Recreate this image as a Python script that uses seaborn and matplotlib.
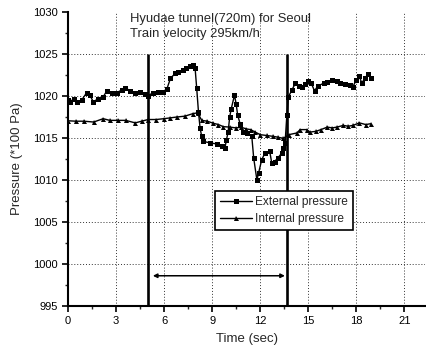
import matplotlib
matplotlib.use("Agg")
import matplotlib.pyplot as plt
import seaborn as sns
import pandas as pd
from matplotlib.ticker import MultipleLocator

ext_t = [0.0, 0.15, 0.35, 0.55, 0.85, 1.17, 1.37, 1.58, 1.9, 2.2, 2.42, 2.73, 3.04, 3.35, 3.56,
         3.9, 4.2, 4.5, 4.8, 5.0, 5.3, 5.6, 5.96, 6.17, 6.4, 6.7, 6.9, 7.2, 7.4, 7.6, 7.83, 7.94,
         8.04, 8.15, 8.25, 8.35, 8.46, 8.9, 9.3, 9.6, 9.8, 9.9, 10.0, 10.1, 10.2, 10.4, 10.5, 10.6,
         10.75, 10.96, 11.17, 11.48, 11.6, 11.8, 11.9, 12.1, 12.3, 12.6, 12.73, 12.9, 13.1, 13.35,
         13.45, 13.56, 13.67, 13.77, 13.98, 14.2, 14.4, 14.6, 14.8, 15.0, 15.2, 15.4, 15.6, 15.96,
         16.2, 16.5, 16.8, 17.0, 17.3, 17.6, 17.8, 18.0, 18.2, 18.35, 18.56, 18.77, 18.9]
ext_p = [1019.5, 1019.3, 1019.7, 1019.3, 1019.5, 1020.4, 1020.1, 1019.3, 1019.7, 1019.9, 1020.6,
         1020.3, 1020.4, 1020.7, 1021.0, 1020.6, 1020.4, 1020.5, 1020.2, 1020.0, 1020.4, 1020.5,
         1020.5, 1020.8, 1022.1, 1022.7, 1022.9, 1023.1, 1023.3, 1023.6, 1023.7, 1023.3, 1020.9,
         1018.1, 1016.2, 1015.2, 1014.6, 1014.4, 1014.3, 1014.0, 1013.8, 1014.8, 1015.7, 1017.5,
         1018.5, 1020.1, 1019.1, 1017.7, 1016.7, 1015.75, 1015.6, 1015.2, 1012.6, 1010.0, 1010.8,
         1012.4, 1013.2, 1013.4, 1012.0, 1012.2, 1012.6, 1013.2, 1013.8, 1014.4, 1017.7, 1019.9,
         1020.7, 1021.5, 1021.2, 1021.1, 1021.4, 1021.8, 1021.5, 1020.6, 1021.2, 1021.5, 1021.7,
         1021.9, 1021.8, 1021.5, 1021.4, 1021.3, 1021.1, 1021.9, 1022.4, 1021.5, 1022.2, 1022.6,
         1022.1]

int_t = [0.0, 0.5, 1.0, 1.6, 2.2, 2.6, 3.1, 3.6, 4.2, 4.6, 5.0, 5.5, 6.0, 6.4, 6.8, 7.3, 7.8,
         8.1, 8.35, 8.7, 9.08, 9.4, 9.7, 10.1, 10.5, 10.8, 11.1, 11.4, 11.7, 12.0, 12.4, 12.8,
         13.1, 13.45, 13.8, 14.3, 14.5, 14.9, 15.1, 15.5, 15.8, 16.2, 16.5, 16.8, 17.2, 17.5,
         17.8, 18.2, 18.6, 18.9]
int_p = [1017.05, 1017.0, 1017.0, 1016.9, 1017.3, 1017.1, 1017.1, 1017.1, 1016.8, 1017.0,
         1017.2, 1017.2, 1017.3, 1017.4, 1017.5, 1017.6, 1017.9, 1018.0, 1017.1, 1017.0, 1016.75,
         1016.6, 1016.35, 1016.3, 1016.2, 1016.3, 1016.1, 1016.0, 1015.7, 1015.4, 1015.3, 1015.2,
         1015.1, 1014.96, 1015.4, 1015.6, 1016.0, 1016.0, 1015.7, 1015.8, 1016.0, 1016.3, 1016.2,
         1016.3, 1016.5, 1016.4, 1016.5, 1016.8, 1016.6, 1016.7]

series_names = ["External pressure", "Internal pressure"]
x_ticks = [0, 3, 6, 9, 12, 15, 18, 21]
y_ticks = [995, 1000, 1005, 1010, 1015, 1020, 1025, 1030]

sns.set_style("ticks")
plt.rcParams['font.family'] = ['Liberation Sans', 'DejaVu Sans']

df = pd.concat([
    pd.DataFrame({"t": ext_t, "p": ext_p, "s": series_names[0]}),
    pd.DataFrame({"t": int_t, "p": int_p, "s": series_names[1]}),
])

fig = plt.figure(figsize=(4.26, 3.51), dpi=100)
ax = fig.add_axes([68/426, 45/351, 357/426, 294/351])

xlim = (0, 22.3)
ylim = (995, 1030)

# dotted grid (no line along the top edge)
grid_style = dict(colors='#333333', linewidth=0.7, linestyles=(0, (1, 2)), zorder=0)
ax.vlines(x_ticks[1:], ylim[0], ylim[1], **grid_style)
ax.hlines(y_ticks[1:-1], xlim[0], xlim[1], **grid_style)

sns.lineplot(data=df, x="t", y="p", hue="s", style="s", markers=["s", "^"], dashes=False,
             palette=["black", "black"], markersize=3.6, linewidth=1.0, markeredgewidth=0,
             ax=ax, sort=False, estimator=None)

ax.set_xlim(*xlim)
ax.set_ylim(*ylim)
ax.set_xticks(x_ticks)
ax.set_yticks(y_ticks)
ax.xaxis.set_minor_locator(MultipleLocator(1.5))
ax.yaxis.set_minor_locator(MultipleLocator(2.5))
ax.tick_params(axis='both', which='major', direction='out', length=4, width=1.2,
               labelsize=8, colors='black')
ax.tick_params(axis='both', which='minor', direction='out', length=2.5, width=1.0)
for s in ["top", "right"]:
    ax.spines[s].set_visible(False)
for s in ["left", "bottom"]:
    ax.spines[s].set_linewidth(1.5)
    ax.spines[s].set_color("black")

ax.set_xlabel("Time (sec)", fontsize=9.5, labelpad=5)
ax.set_ylabel("Pressure (*100 Pa)", fontsize=9.5, labelpad=7)

ax.vlines([5, 13.65], 995, 1025, colors='black', linewidth=1.9, zorder=5)
ax.annotate('', xy=(5.3, 998.6), xytext=(13.55, 998.6),
            arrowprops=dict(arrowstyle='<|-|>', lw=1.1, color='black', mutation_scale=6,
                            shrinkA=0, shrinkB=0))

ax.text(3.9, 1029.9, "Hyudae tunnel(720m) for Seoul\nTrain velocity 295km/h",
        fontsize=9.4, va='top', ha='left', linespacing=1.3)

leg = ax.legend(title=None, loc='upper left', bbox_to_anchor=(0.412, 0.392), borderaxespad=0,
                fontsize=8.6, frameon=True, fancybox=False, edgecolor='black',
                handlelength=2.6, labelspacing=0.4, borderpad=0.45, handletextpad=0.3)
leg.get_frame().set_linewidth(1.2)
leg.get_frame().set_alpha(1)

fig.savefig("out.png", dpi=100)
